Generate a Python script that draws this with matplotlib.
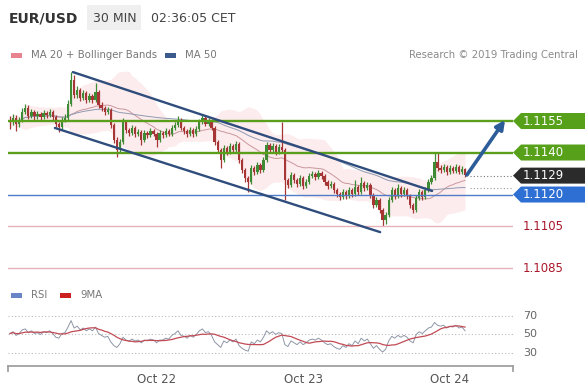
import numpy as np
import pandas as pd
import matplotlib
matplotlib.use("Agg")
import matplotlib.pyplot as plt
from matplotlib.patches import Polygon, Rectangle
from matplotlib.transforms import blended_transform_factory

# -------------------------------
# DATA (EUR/USD, 30 min bars, Oct 21 00:00 -> Oct 24 02:30)
# -------------------------------
first_open = 1.11555
closes = [
    1.11545, 1.11564, 1.11536, 1.11555, 1.11593, 1.11612, 1.11574, 1.11593, 1.11574, 1.11583,
    1.11569, 1.11588, 1.11579, 1.11593, 1.11569, 1.11536, 1.11521, 1.11555, 1.11564, 1.11631,
    1.11745, 1.11674, 1.11698, 1.11660, 1.11683, 1.11650, 1.11669, 1.11650, 1.11688, 1.11626,
    1.11612, 1.11593, 1.11602, 1.11531, 1.11460, 1.11412, 1.11450, 1.11545, 1.11507, 1.11493,
    1.11517, 1.11488, 1.11498, 1.11460, 1.11493, 1.11483, 1.11502, 1.11488, 1.11460, 1.11493,
    1.11483, 1.11502, 1.11488, 1.11517, 1.11531, 1.11555, 1.11517, 1.11502, 1.11488, 1.11507,
    1.11488, 1.11512, 1.11545, 1.11564, 1.11536, 1.11550, 1.11517, 1.11450, 1.11412, 1.11364,
    1.11421, 1.11402, 1.11431, 1.11412, 1.11440, 1.11364, 1.11317, 1.11279, 1.11260, 1.11326,
    1.11307, 1.11340, 1.11317, 1.11364, 1.11436, 1.11412, 1.11431, 1.11402, 1.11426, 1.11412,
    1.11269, 1.11245, 1.11293, 1.11269, 1.11250, 1.11279, 1.11240, 1.11260, 1.11288, 1.11298,
    1.11283, 1.11302, 1.11288, 1.11260, 1.11240, 1.11250, 1.11221, 1.11202, 1.11188, 1.11212,
    1.11193, 1.11221, 1.11202, 1.11236, 1.11212, 1.11255, 1.11231, 1.11245, 1.11198, 1.11150,
    1.11174, 1.11126, 1.11079, 1.11102, 1.11174, 1.11221, 1.11193, 1.11231, 1.11202, 1.11221,
    1.11193, 1.11150, 1.11126, 1.11183, 1.11212, 1.11188, 1.11221, 1.11260, 1.11279, 1.11355,
    1.11326, 1.11317, 1.11331, 1.11307, 1.11326, 1.11312, 1.11331, 1.11307, 1.11321, 1.11293,
]
highs = [
    1.11574, 1.11583, 1.11579, 1.11569, 1.11612, 1.11631, 1.11626, 1.11607, 1.11602, 1.11598,
    1.11593, 1.11602, 1.11598, 1.11607, 1.11602, 1.11579, 1.11545, 1.11569, 1.11583, 1.11650,
    1.11783, 1.11769, 1.11717, 1.11707, 1.11698, 1.11693, 1.11683, 1.11679, 1.11731, 1.11698,
    1.11640, 1.11621, 1.11617, 1.11612, 1.11540, 1.11474, 1.11464, 1.11564, 1.11555, 1.11517,
    1.11531, 1.11526, 1.11512, 1.11507, 1.11507, 1.11502, 1.11517, 1.11512, 1.11498, 1.11507,
    1.11502, 1.11517, 1.11512, 1.11531, 1.11545, 1.11574, 1.11564, 1.11526, 1.11512, 1.11521,
    1.11517, 1.11526, 1.11560, 1.11579, 1.11574, 1.11564, 1.11560, 1.11526, 1.11460, 1.11421,
    1.11436, 1.11431, 1.11445, 1.11440, 1.11455, 1.11450, 1.11374, 1.11326, 1.11288, 1.11340,
    1.11336, 1.11355, 1.11350, 1.11379, 1.11450, 1.11445, 1.11445, 1.11440, 1.11440, 1.11545,
    1.11421, 1.11279, 1.11307, 1.11302, 1.11279, 1.11293, 1.11288, 1.11274, 1.11302, 1.11312,
    1.11307, 1.11317, 1.11312, 1.11298, 1.11269, 1.11264, 1.11260, 1.11231, 1.11212, 1.11226,
    1.11221, 1.11236, 1.11231, 1.11269, 1.11245, 1.11283, 1.11264, 1.11260, 1.11255, 1.11207,
    1.11188, 1.11183, 1.11136, 1.11117, 1.11188, 1.11236, 1.11231, 1.11250, 1.11240, 1.11236,
    1.11231, 1.11202, 1.11160, 1.11198, 1.11226, 1.11221, 1.11236, 1.11274, 1.11293, 1.11402,
    1.11402, 1.11340, 1.11345, 1.11340, 1.11340, 1.11336, 1.11345, 1.11340, 1.11336, 1.11326,
]
lows = [
    1.11512, 1.11531, 1.11502, 1.11521, 1.11545, 1.11583, 1.11560, 1.11564, 1.11555, 1.11560,
    1.11550, 1.11560, 1.11564, 1.11569, 1.11555, 1.11521, 1.11498, 1.11507, 1.11545, 1.11555,
    1.11621, 1.11660, 1.11660, 1.11645, 1.11650, 1.11636, 1.11640, 1.11636, 1.11640, 1.11612,
    1.11598, 1.11579, 1.11583, 1.11517, 1.11445, 1.11379, 1.11398, 1.11440, 1.11493, 1.11478,
    1.11483, 1.11474, 1.11478, 1.11436, 1.11450, 1.11469, 1.11474, 1.11478, 1.11426, 1.11450,
    1.11469, 1.11474, 1.11478, 1.11478, 1.11507, 1.11521, 1.11507, 1.11488, 1.11474, 1.11478,
    1.11474, 1.11478, 1.11502, 1.11536, 1.11526, 1.11526, 1.11507, 1.11436, 1.11398, 1.11326,
    1.11355, 1.11388, 1.11393, 1.11398, 1.11402, 1.11350, 1.11302, 1.11260, 1.11212, 1.11250,
    1.11293, 1.11298, 1.11302, 1.11307, 1.11355, 1.11398, 1.11402, 1.11388, 1.11393, 1.11398,
    1.11174, 1.11231, 1.11236, 1.11255, 1.11236, 1.11240, 1.11226, 1.11231, 1.11250, 1.11279,
    1.11269, 1.11274, 1.11274, 1.11245, 1.11226, 1.11231, 1.11207, 1.11188, 1.11174, 1.11179,
    1.11179, 1.11183, 1.11188, 1.11193, 1.11198, 1.11202, 1.11217, 1.11221, 1.11183, 1.11136,
    1.11140, 1.11112, 1.11050, 1.11060, 1.11093, 1.11164, 1.11179, 1.11183, 1.11188, 1.11193,
    1.11179, 1.11136, 1.11112, 1.11117, 1.11174, 1.11174, 1.11179, 1.11212, 1.11250, 1.11269,
    1.11312, 1.11302, 1.11307, 1.11293, 1.11298, 1.11302, 1.11302, 1.11298, 1.11298, 1.11283,
]
rsi = [
    51, 53, 49, 51, 55, 56, 52, 54, 51, 52,
    50, 53, 52, 54, 51, 47, 46, 51, 52, 58,
    65, 57, 59, 55, 57, 54, 56, 54, 58, 51,
    49, 47, 48, 42, 38, 36, 40, 47, 44, 43,
    45, 43, 44, 41, 44, 43, 45, 44, 41, 44,
    44, 46, 45, 49, 51, 54, 49, 48, 46, 49,
    47, 50, 54, 56, 52, 53, 49, 42, 39, 36,
    43, 41, 44, 42, 45, 38, 35, 33, 32, 42,
    40, 44, 42, 47, 54, 51, 53, 50, 52, 51,
    39, 37, 43, 41, 39, 42, 39, 41, 44, 45,
    44, 46, 44, 41, 39, 40, 37, 35, 34, 38,
    36, 40, 38, 43, 40, 46, 43, 45, 40, 35,
    38, 34, 31, 34, 43, 48, 46, 49, 47, 49,
    47, 43, 41, 50, 53, 51, 54, 57, 58, 63,
    60, 59, 60, 57, 59, 58, 60, 57, 58, 54,
]
date_ticks = [48, 96, 144]
date_labels = ["Oct 22", "Oct 23", "Oct 24"]
rsi_levels = [70, 50, 30]

# key levels
green_levels = [1.1155, 1.1140]
last_price = 1.1129
blue_level = 1.1120
red_levels = [1.1105, 1.1085]
ma_marker = 1.1123

# channel and arrow (bar index, price)
upper_channel = ([20.6, 138.2], [1.11783, 1.11217])
lower_channel = ([14.7, 121.2], [1.11517, 1.11021])
arrow_from = (149.6, 1.11293)
arrow_to = (162.1, 1.11555)

# -------------------------------
# INDICATORS
# -------------------------------
c = pd.Series(closes)
o = np.r_[first_open, closes[:-1]]
h = np.array(highs)
l = np.array(lows)
x = np.arange(len(closes))
ma20 = c.rolling(20, min_periods=1).mean()
sd20 = c.rolling(20, min_periods=2).std().bfill()
bb_up = ma20 + 2 * sd20
bb_dn = ma20 - 2 * sd20
ma50 = c.rolling(50, min_periods=1).mean()
rsi_s = pd.Series(rsi, dtype=float)
rsi_ma = rsi_s.rolling(9, min_periods=1).mean()

# -------------------------------
# FIGURE
# -------------------------------
W, H = 585, 390
fig = plt.figure(figsize=(W / 100, H / 100), dpi=100)
fig.patch.set_facecolor("white")

ov = fig.add_axes([0, 0, 1, 1])
ov.set_xlim(0, W)
ov.set_ylim(H, 0)
ov.axis("off")

XL = (-0.65, 164.7)
ax = fig.add_axes([8 / W, 1 - 280 / H, 505 / W, 218 / H])
ax.set_xlim(*XL)
ax.set_ylim(1.10793, 1.11831)
ax.axis("off")
ax.patch.set_alpha(0)

ax2 = fig.add_axes([8 / W, 1 - 366 / H, 505 / W, 66 / H])
ax2.set_xlim(*XL)
ax2.set_ylim(15.9, 87.3)
ax2.patch.set_alpha(0)
for s in ["top", "left", "right"]:
    ax2.spines[s].set_visible(False)
ax2.spines["bottom"].set_color("#a0a0a0")
ax2.spines["bottom"].set_linewidth(1.3)
ax2.set_yticks([])
ax2.set_xticks(date_ticks)
ax2.set_xticklabels(date_labels, fontsize=8.5, color="#555555")
ax2.tick_params(axis="x", length=0, pad=5)
for xe in [0, 1]:
    ax2.plot([xe, xe], [0, -0.07], transform=ax2.transAxes, color="#a0a0a0",
             lw=1.3, clip_on=False)

# Bollinger band + moving averages
ax.fill_between(x, bb_dn, bb_up, color="#fdeced", lw=0, zorder=1)
ax.plot(x, ma20, color="#c9979c", lw=0.7, zorder=2)
ax.plot(x, ma50, color="#8f9ab2", lw=0.7, zorder=2)

# candles
up = np.array(closes) >= o
cols = np.where(up, "#3f8a35", "#a63636")
ax.vlines(x, l, h, colors=cols, lw=0.9, zorder=3)
body_lo = np.minimum(o, closes)
body_h = np.maximum(np.abs(np.array(closes) - o), 0.00003)
ax.bar(x, body_h, bottom=body_lo, width=0.75, color=cols, lw=0, zorder=4)

# horizontal levels
for lv in green_levels:
    ax.axhline(lv, color="#5a9e1c", lw=1.7, zorder=5)
ax.axhline(blue_level, color="#4f7cc6", lw=1.0, zorder=5)
for lv in red_levels:
    ax.axhline(lv, color="#e6b3ba", lw=1.0, zorder=5)
ax.plot([150.6, XL[1]], [last_price] * 2, ls=(0, (1, 2)), color="#777777", lw=0.8)
ax.plot([150.6, XL[1]], [ma_marker] * 2, ls=(0, (1, 2)), color="#999999", lw=0.8)

# channel lines
ax.plot(*upper_channel, color="#2f4d7c", lw=1.7, solid_capstyle="round", zorder=6)
ax.plot(*lower_channel, color="#2f4d7c", lw=1.7, solid_capstyle="round", zorder=6)

# target arrow
ax.annotate("", xy=arrow_to, xytext=arrow_from, annotation_clip=False,
            arrowprops=dict(arrowstyle="-|>", color="#2d5d98", lw=2.6,
                            mutation_scale=13, shrinkA=0, shrinkB=0), zorder=7)

# price tags on the right
tr = blended_transform_factory(ax.transAxes, ax.transData)
half = 8 / 21000.0
tip, body0, body1 = 1.0, 1.0 + 8 / 505, 1.0 + 72 / 505
tags = [(green_levels[0], "#56a01a"), (green_levels[1], "#56a01a"),
        (last_price, "#2b2b2b"), (blue_level, "#2e6fd4")]
for lv, fc in tags:
    poly = Polygon([(tip, lv), (body0, lv + half), (body1, lv + half),
                    (body1, lv - half), (body0, lv - half)], closed=True,
                   transform=tr, facecolor=fc, edgecolor="none", clip_on=False)
    ax.add_patch(poly)
    ax.text(1.0 + 10 / 505, lv, f"{lv:.4f}", transform=tr, color="white",
            fontsize=8.5, va="center", ha="left", clip_on=False)
for lv in red_levels:
    ax.text(1.0 + 10 / 505, lv, f"{lv:.4f}", transform=tr, color="#a8182a",
            fontsize=8.5, va="center", ha="left", clip_on=False)

# RSI panel
tr2 = blended_transform_factory(ax2.transAxes, ax2.transData)
for lv in rsi_levels:
    ax2.axhline(lv, ls=(0, (1, 2)), color="#bbbbbb", lw=0.8)
    ax2.text(1.0 + 10 / 505, lv, str(lv), transform=tr2,
             fontsize=8, color="#666666", va="center", ha="left", clip_on=False)
ax2.plot(x, rsi_s, color="#8e96a6", lw=0.7)
ax2.plot(x, rsi_ma, color="#c24a55", lw=0.9)

# header
ov.text(9, 18, "EUR/USD", fontsize=10, fontweight="bold", color="#333333", va="center")
ov.add_patch(Rectangle((87, 5), 54, 25, facecolor="#efefef", edgecolor="none"))
ov.text(93, 18, "30 MIN", fontsize=9, color="#444444", va="center")
ov.text(151, 18, "02:36:05 CET", fontsize=9, color="#444444", va="center")

# legends
ov.add_patch(Rectangle((11, 53), 11, 5, facecolor="#e8848f", edgecolor="none"))
ov.text(31, 55.5, "MA 20 + Bollinger Bands", fontsize=7.3, color="#777777", va="center")
ov.add_patch(Rectangle((165, 53), 11, 5, facecolor="#3b5b8c", edgecolor="none"))
ov.text(185, 55.5, "MA 50", fontsize=7.3, color="#777777", va="center")
ov.text(578, 55.5, "Research \u00a9 2019 Trading Central", fontsize=7.3,
        color="#8a8a8a", va="center", ha="right")
ov.add_patch(Rectangle((11, 293), 11, 5, facecolor="#6985c6", edgecolor="none"))
ov.text(31, 295.5, "RSI", fontsize=7.3, color="#777777", va="center")
ov.add_patch(Rectangle((60, 293), 11, 5, facecolor="#cc2020", edgecolor="none"))
ov.text(80, 295.5, "9MA", fontsize=7.3, color="#777777", va="center")

fig.savefig("out.png", dpi=100)
